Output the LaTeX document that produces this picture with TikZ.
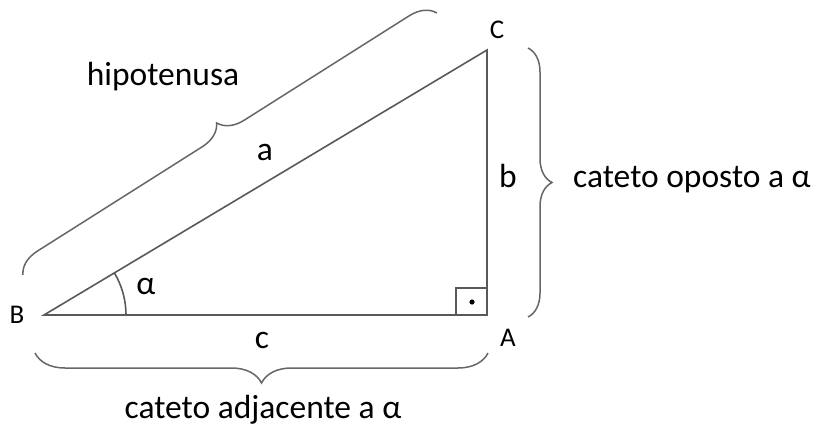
\documentclass[tikz,border=0pt]{standalone}
\usepackage{fontspec}
\setmainfont{Carlito}
\usetikzlibrary{decorations.pathreplacing}

\tikzstyle{lbl} = [font=\fontsize{33.5}{38}\selectfont, text=black, inner sep=0pt]
\tikzstyle{vtx} = [font=\fontsize{27}{32}\selectfont, text=black, inner sep=0pt]
\tikzstyle{side} = [draw=black!65, line width=1.6pt]
\tikzstyle{bracebox} = [draw=black!60, line width=1.5pt, decorate]

\begin{document}
\begin{tikzpicture}[x=1pt, y=1pt]
\useasboundingbox (0,0) rectangle (818,434);
%vertices
\coordinate (B) at (44,119);
\coordinate (A) at (487,119);
\coordinate (C) at (487,384);
%triangle
\draw[side] (B) -- (A) -- (C) -- cycle;
%right angle
\draw[side] (456,119) -- (456,146) -- (487,146);
\fill (472,132) circle (2.6pt);
%alpha arc
\draw[side] ([xshift=82pt]B) arc[start angle=0, end angle=30.9, radius=82pt];
%vertex labels
\node[vtx] (lB) at (17,119) {B};
\node[vtx] (lA) at (508,96) {A};
\node[vtx] (lC) at (497,404) {C};
%side labels
\node[lbl] (la) at (265,282) {a};
\node[lbl] (lb) at (508,258) {b};
\node[lbl] (lc) at (262,94) {c};
\node[lbl] (lal) at (146,148) {α};
%braces
\coordinate (h1) at (23,159);
\coordinate (h2) at (437,421);
\draw[bracebox, decoration={brace, amplitude=25pt, aspect=0.5}] (h1) -- (h2);
\coordinate (o1) at (528,386);
\coordinate (o2) at (528,117);
\draw[bracebox, decoration={brace, amplitude=24pt, aspect=0.5}] (o1) -- (o2);
\coordinate (d1) at (488,81);
\coordinate (d2) at (35,81);
\draw[bracebox, decoration={brace, amplitude=30pt, aspect=0.5}] (d1) -- (d2);
%brace labels
\node[lbl] (hip) at (163,357) {hipotenusa};
\node[lbl] (opo) at (692,254) {cateto oposto a α};
\node[lbl] (adj) at (263,24) {cateto adjacente a α};
\end{tikzpicture}
\end{document}
